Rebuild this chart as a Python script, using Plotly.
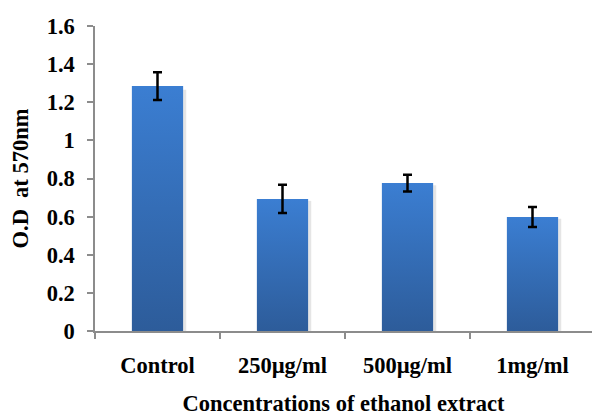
import plotly.graph_objects as go

# Optical density readings for each ethanol-extract concentration
categories = ["Control", "250µg/ml", "500µg/ml", "1mg/ml"]
od_values = [1.285, 0.693, 0.776, 0.598]
od_errors = [0.073, 0.074, 0.044, 0.052]
y_ticks = [0, 0.2, 0.4, 0.6, 0.8, 1, 1.2, 1.4, 1.6]
y_tick_labels = ["0", "0.2", "0.4", "0.6", "0.8", "1", "1.2", "1.4", "1.6"]

FONT = "Liberation Serif, Times New Roman, serif"
FONT_SIZE = 22.5
AXIS_GREY = "#8c8c8c"
BAR_TOP = "#3b7ed2"
BAR_BOTTOM = "#2d5c9a"
BAR_WIDTH = 0.41

fig = go.Figure()

positions = list(range(len(categories)))

# Each bar is a filled rectangle with a vertical gradient (light top, dark bottom)
for pos, val in zip(positions, od_values):
    left, right = pos - BAR_WIDTH / 2, pos + BAR_WIDTH / 2
    # soft shadow on the right edge
    fig.add_trace(go.Scatter(
        x=[right, right + 0.025, right + 0.025, right, right],
        y=[0, 0, val * 0.985, val * 0.985, 0],
        fill="toself", mode="none", fillcolor="rgba(0,0,0,0.10)",
        hoverinfo="skip", showlegend=False,
    ))
    fig.add_trace(go.Scatter(
        x=[left, right, right, left, left],
        y=[0, 0, val, val, 0],
        fill="toself", mode="none",
        fillgradient=dict(type="vertical",
                          colorscale=[[0, BAR_BOTTOM], [1, BAR_TOP]]),
        hoverinfo="skip", showlegend=False,
    ))

# Error bars
fig.add_trace(go.Scatter(
    x=positions, y=od_values, mode="markers",
    marker=dict(size=0.1, color="rgba(0,0,0,0)"),
    error_y=dict(type="data", array=od_errors, visible=True,
                 color="black", thickness=2.5, width=4.5),
    hoverinfo="skip", showlegend=False,
))

fig.update_layout(
    width=592, height=416,
    margin=dict(l=95, r=0, t=26, b=85),
    paper_bgcolor="white", plot_bgcolor="white",
    font=dict(family=FONT, size=FONT_SIZE, color="black"),
    showlegend=False,
)

fig.update_xaxes(
    range=[-0.5, 3.476],
    tickvals=positions, ticktext=categories,
    ticks="", showgrid=False, zeroline=False,
    showline=True, linecolor=AXIS_GREY, linewidth=1.5,
    tickfont=dict(family=FONT, size=FONT_SIZE, color="black", weight="bold"),
    ticklabelstandoff=13,
    minor=dict(tickvals=[-0.5, 0.5, 1.5, 2.5, 3.5], ticks="outside",
               ticklen=6, tickwidth=1.5, tickcolor=AXIS_GREY, showgrid=False),
    title=dict(text="<b>Concentrations of ethanol extract</b>",
               font=dict(family=FONT, size=FONT_SIZE, color="black"), standoff=22),
)

fig.update_yaxes(
    range=[0, 1.6],
    tickvals=y_ticks, ticktext=y_tick_labels,
    ticks="outside", ticklen=6, tickwidth=1.5, tickcolor=AXIS_GREY,
    showgrid=False, zeroline=False,
    showline=True, linecolor=AXIS_GREY, linewidth=1.5,
    tickfont=dict(family=FONT, size=FONT_SIZE, color="black", weight="bold"),
    ticklabelstandoff=8,
    title=dict(text="<b>O.D  at 570nm</b>",
               font=dict(family=FONT, size=FONT_SIZE, color="black"), standoff=12),
)

fig.write_html("out.html")
